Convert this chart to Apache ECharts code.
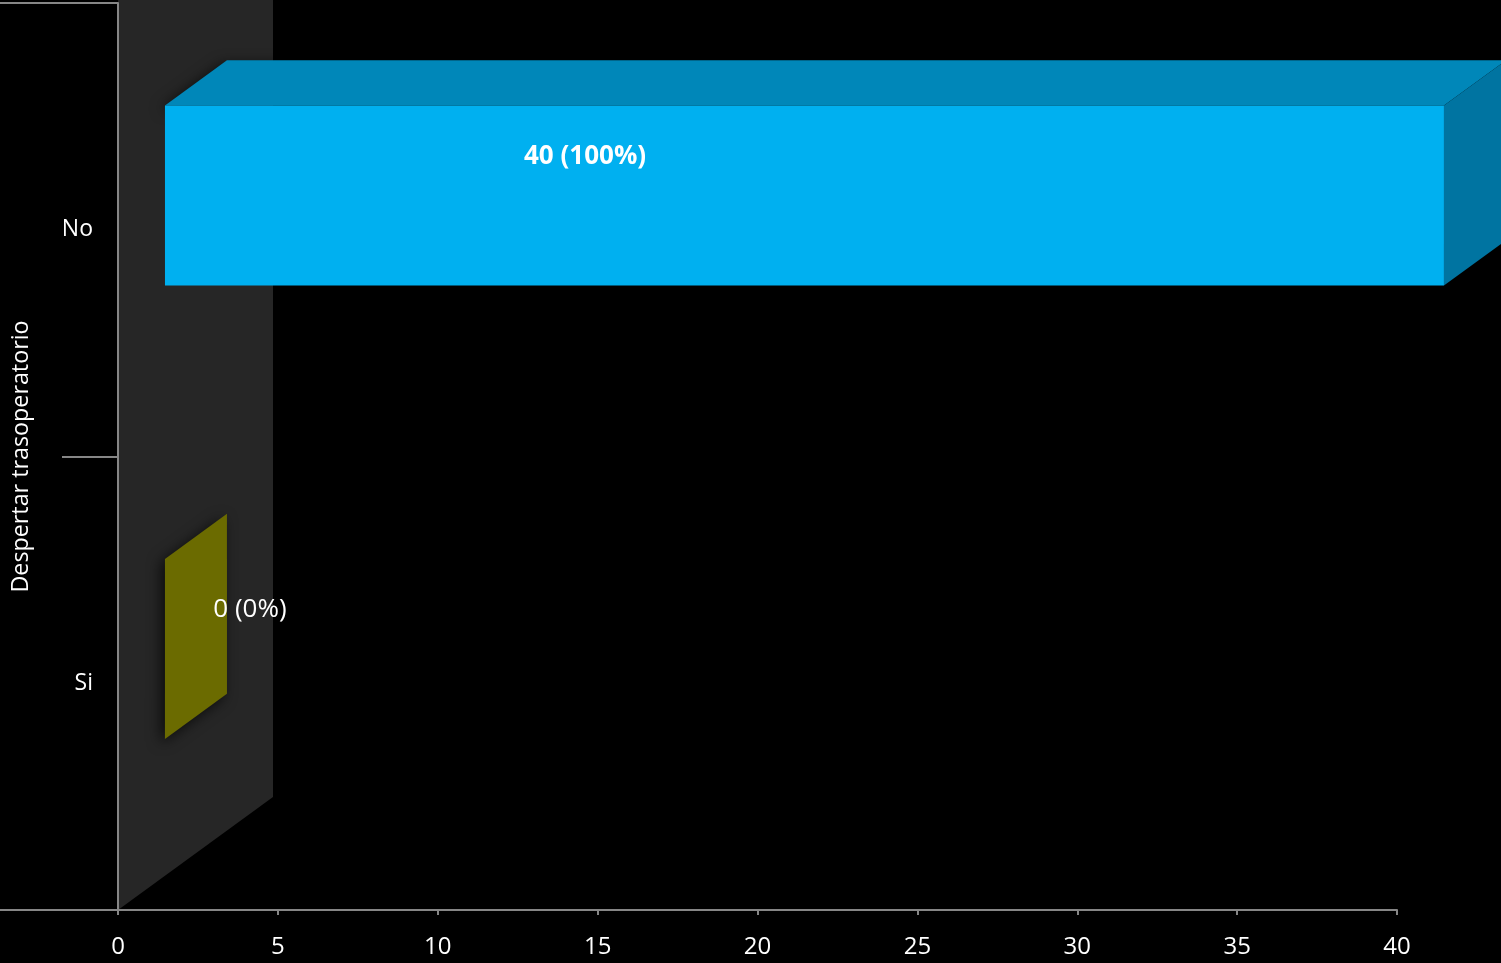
<!DOCTYPE html>
<html>
<head>
<meta charset="utf-8">
<script src="https://cdn.jsdelivr.net/npm/echarts@6/dist/echarts.min.js"></script>
<style>
html,body{margin:0;padding:0;background:#000;}
#chart{width:1501px;height:963px;}
</style>
</head>
<body>
<div id="chart"></div>
<script>
// Data
const categories = ['Si', 'No'];          // bottom to top
const values = [0, 40];
const barLabels = ['0 (0%)', '40 (100%)'];
const labelBold = [false, true];
const axisTitle = 'Despertar trasoperatorio';
const xMin = 0, xMax = 40, xInterval = 5;

// Styles
const FRONT = ['#9C9C00', '#00B0F0'];
const TOP = ['#7E7E00', '#0087B9'];
const SIDE = ['#6B6B00', '#0074A1'];
const DEPTH_X = 155, DEPTH_Y = -113;   // full 3D depth projection
const F1 = 0.303, F2 = 0.703;          // bar front/back depth fraction
const FONT = 'Open Sans';

const chart = echarts.init(document.getElementById('chart'));

function wallRender(params, api) {
  const cs = params.coordSys;
  const x0 = api.coord([0, categories[0]])[0];
  const yb = cs.y + cs.height;
  const yt = cs.y;
  return {
    type: 'group',
    children: [
      { type: 'polygon', shape: { points: [[x0, 0], [x0 + DEPTH_X, 0], [x0 + DEPTH_X, yb + DEPTH_Y], [x0, yb]] },
        style: { fill: '#262626' } },
      { type: 'line', shape: { x1: 0, y1: yt, x2: x0, y2: yt }, style: { stroke: '#868686', lineWidth: 2 } },
      { type: 'line', shape: { x1: 0, y1: yb, x2: x0, y2: yb }, style: { stroke: '#868686', lineWidth: 2 } }
    ]
  };
}

function barRender(params, api) {
  const i = params.dataIndex;
  const cat = api.value(0);
  const v = api.value(1);
  const p0 = api.coord([0, cat]);
  const p1 = api.coord([v, cat]);
  const band = api.size([0, 1])[1];
  const h = band * 0.397;
  const fx = DEPTH_X * F1, fy = DEPTH_Y * F1;
  const bx = DEPTH_X * F2, by = DEPTH_Y * F2;
  const L = p0[0] + fx, R = p1[0] + fx;
  const T = p0[1] + fy - h / 2, B = p0[1] + fy + h / 2;
  const dx = bx - fx, dy = by - fy;
  const shadow = { shadowBlur: 14, shadowColor: 'rgba(0,0,0,0.7)', shadowOffsetX: -4, shadowOffsetY: 4 };
  const children = [];
  if (R - L > 0.5) {
    children.push({ type: 'polygon', shape: { points: [[L, T], [L + dx, T + dy], [R + dx, T + dy], [R, T]] },
      style: Object.assign({ fill: TOP[i] }, shadow) });
    children.push({ type: 'rect', shape: { x: L, y: T, width: R - L, height: B - T }, style: { fill: FRONT[i] } });
  }
  children.push({ type: 'polygon', shape: { points: [[R, T], [R + dx, T + dy], [R + dx, B + dy], [R, B]] },
    style: Object.assign({ fill: SIDE[i] }, R - L > 0.5 ? {} : shadow) });
  children.push({ type: 'text', z2: 10,
    style: { text: barLabels[i], x: L + 85 + (R - L) * 0.262, y: T + 51, align: 'center', verticalAlign: 'middle',
      fill: '#FFFFFF', font: (labelBold[i] ? 'bold ' : '') + '26px "' + FONT + '"' } });
  return { type: 'group', children: children };
}

chart.setOption({
  backgroundColor: '#000000',
  animation: false,
  grid: { left: 118, right: 104, top: 3, bottom: 53, containLabel: false },
  xAxis: {
    type: 'value', min: xMin, max: xMax, interval: xInterval,
    axisLine: { show: true, lineStyle: { color: '#868686', width: 2 } },
    axisTick: { show: true, length: 5, lineStyle: { color: '#868686', width: 2 } },
    axisLabel: { color: '#FFFFFF', fontSize: 24, fontFamily: FONT, margin: 25 },
    splitLine: { show: false }
  },
  yAxis: {
    type: 'category', data: categories,
    name: axisTitle, nameLocation: 'middle', nameGap: 85,
    nameTextStyle: { color: '#FFFFFF', fontSize: 23.3, fontFamily: FONT },
    axisLine: { show: true, lineStyle: { color: '#868686', width: 2 } },
    axisTick: { show: true, length: 56, lineStyle: { color: '#868686', width: 2 } },
    axisLabel: { color: '#FFFFFF', fontSize: 23, fontFamily: FONT, margin: 25, padding: [7, 0, 0, 0] }
  },
  series: [
    { type: 'custom', z: -1, renderItem: wallRender, data: [[0, categories[0]]], silent: true },
    { type: 'custom', z: 2, renderItem: barRender, clip: false,
      data: categories.map((c, k) => [c, values[k]]), encode: { x: 1, y: 0 } }
  ]
});
</script>
</body>
</html>
